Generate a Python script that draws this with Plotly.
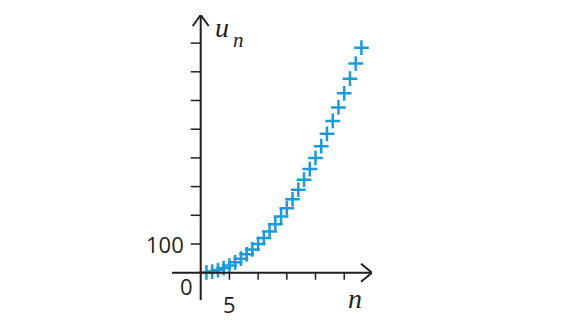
import plotly.graph_objects as go

# data
n_values = list(range(1, 29))
u_values = [1, 4, 9, 16, 25, 36, 49, 64, 81, 100, 121, 144, 169, 196, 225, 256,
            289, 324, 361, 400, 441, 484, 529, 576, 625, 676, 729, 784]
x_ticks = [5, 10, 15, 20, 25]
y_ticks = [100, 200, 300, 400, 500, 600, 700, 800]
x_tick_labels = {5: "5"}
y_tick_labels = {100: "100"}

X_MIN, X_MAX = -5.0, 29.84
Y_MIN, Y_MAX = -95.1, 897.9
AX_COLOR = "#231f20"
PT_COLOR = "#1a9ad6"
NUM_FONT = dict(family="Open Sans", size=22, color=AX_COLOR)
VAR_FONT = dict(family="Liberation Serif", size=28, color=AX_COLOR)
SUB_FONT = dict(family="Liberation Serif", size=21, color=AX_COLOR)

fig = go.Figure()
fig.add_trace(go.Scatter(
    x=n_values, y=u_values, mode="markers",
    marker=dict(symbol="cross-thin", size=10.5, color=PT_COLOR,
                line=dict(color=PT_COLOR, width=2.5)),
    hoverinfo="skip", showlegend=False,
))

shapes = []
shapes.append(dict(type="line", xref="x", yref="y", x0=X_MIN, x1=X_MAX - 0.05, y0=0, y1=0,
                   line=dict(color=AX_COLOR, width=2)))
shapes.append(dict(type="line", xref="x", yref="y", x0=0, x1=0, y0=Y_MIN, y1=Y_MAX - 1,
                   line=dict(color=AX_COLOR, width=2)))
shapes.append(dict(type="path", xref="x", yref="y", xsizemode="pixel", ysizemode="pixel",
                   xanchor=X_MAX, yanchor=0, path="M -11,9 L 0,0 L -11,-9",
                   line=dict(color=AX_COLOR, width=2)))
shapes.append(dict(type="path", xref="x", yref="y", xsizemode="pixel", ysizemode="pixel",
                   xanchor=0, yanchor=Y_MAX, path="M -8,-11 L 0,0 L 8,-11",
                   line=dict(color=AX_COLOR, width=2)))
for t in x_ticks:
    shapes.append(dict(type="line", xref="x", yref="y", ysizemode="pixel", yanchor=0,
                       x0=t, x1=t, y0=0, y1=-7, line=dict(color=AX_COLOR, width=1.5)))
for t in y_ticks:
    shapes.append(dict(type="line", xref="x", yref="y", xsizemode="pixel", xanchor=0,
                       x0=-10, x1=0, y0=t, y1=t, line=dict(color=AX_COLOR, width=1.5)))

annotations = []
for t, lab in x_tick_labels.items():
    annotations.append(dict(x=t, y=0, xref="x", yref="y", text=lab, showarrow=False,
                            xanchor="center", yanchor="top", yshift=-14, font=NUM_FONT))
for t, lab in y_tick_labels.items():
    annotations.append(dict(x=0, y=t, xref="x", yref="y", text=lab, showarrow=False,
                            xanchor="right", yanchor="middle", xshift=-15, font=NUM_FONT))
annotations.append(dict(x=0, y=0, xref="x", yref="y", text="0", showarrow=False,
                        xanchor="right", yanchor="top", xshift=-6, yshift=4, font=NUM_FONT))
annotations.append(dict(x=X_MAX, y=0, xref="x", yref="y", text="<i>n</i>", showarrow=False,
                        xanchor="right", yanchor="top", xshift=-8, yshift=-8, font=VAR_FONT))
annotations.append(dict(x=0, y=Y_MAX, xref="x", yref="y", text="<i>u</i>", showarrow=False,
                        xanchor="left", yanchor="top", xshift=12, yshift=5, font=VAR_FONT))
annotations.append(dict(x=0, y=Y_MAX, xref="x", yref="y", text="<i>n</i>", showarrow=False,
                        xanchor="left", yanchor="top", xshift=30, yshift=-11, font=SUB_FONT))

fig.update_layout(
    width=564, height=322,
    margin=dict(l=172, r=192, t=15, b=22),
    paper_bgcolor="white", plot_bgcolor="white",
    xaxis=dict(range=[X_MIN, X_MAX], visible=False, fixedrange=True),
    yaxis=dict(range=[Y_MIN, Y_MAX], visible=False, fixedrange=True),
    shapes=shapes, annotations=annotations,
)

fig.write_html("out.html")
